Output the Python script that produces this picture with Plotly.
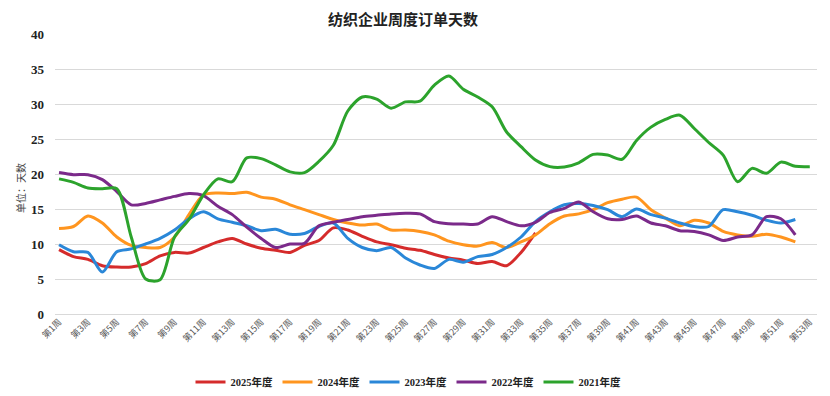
import plotly.graph_objects as go

weeks = [f"第{i}周" for i in range(1, 54)]
tick_weeks = [f"第{i}周" for i in range(1, 54, 2)]

y2025 = [9.2, 8.2, 7.8, 6.9, 6.7, 6.7, 7.2, 8.3, 8.8, 8.7, 9.5, 10.3, 10.8, 10.0, 9.4,
         9.1, 8.8, 9.8, 10.5, 12.3, 12.0, 11.1, 10.3, 9.9, 9.4, 9.1, 8.5, 8.0, 7.7, 7.2,
         7.5, 6.9, 8.8, 11.6]
y2024 = [12.2, 12.5, 14.0, 13.0, 11.0, 9.8, 9.5, 9.5, 11.0, 14.2, 17.0, 17.3, 17.2, 17.4, 16.7,
         16.4, 15.6, 14.9, 14.2, 13.5, 13.0, 12.7, 12.85, 12.0, 12.0, 11.8, 11.3, 10.4, 9.9, 9.7,
         10.2, 9.5, 10.3, 11.3, 12.9, 14.0, 14.3, 14.9, 15.9, 16.4, 16.7, 14.9, 13.7, 12.6, 13.4,
         13.0, 11.8, 11.3, 11.1, 11.4, 11.0, 10.3]
y2023 = [9.9, 8.9, 8.8, 6.0, 8.9, 9.3, 10.0, 10.8, 12.0, 13.6, 14.6, 13.6, 13.1, 12.6, 11.9,
         12.1, 11.4, 11.5, 12.5, 13.0, 10.8, 9.5, 9.05, 9.5, 8.0, 7.0, 6.5, 7.8, 7.4, 8.2,
         8.5, 9.5, 11.0, 13.2, 14.6, 15.6, 15.8, 15.5, 14.9, 13.9, 15.0, 14.2, 13.7, 13.0, 12.5,
         12.5, 14.9, 14.6, 14.1, 13.4, 13.0, 13.5]
y2022 = [20.2, 19.9, 19.9, 19.2, 17.5, 15.6, 15.8, 16.3, 16.8, 17.2, 16.9, 15.4, 14.2, 12.4, 10.8,
         9.5, 10.0, 10.1, 12.6, 13.1, 13.5, 13.9, 14.1, 14.3, 14.4, 14.3, 13.2, 12.9, 12.85, 12.85,
         13.9, 13.2, 12.6, 13.1, 14.5, 15.1, 16.0, 14.6, 13.6, 13.5, 14.0, 13.0, 12.6, 11.9, 11.8,
         11.3, 10.5, 11.0, 11.3, 13.9, 13.6, 11.3]
y2021 = [19.3, 18.8, 18.0, 17.9, 17.9, 11.0, 5.0, 4.9, 11.0, 13.5, 17.0, 19.3, 18.9, 22.3, 22.2,
         21.3, 20.3, 20.2, 21.8, 24.1, 29.0, 31.0, 30.7, 29.4, 30.3, 30.4, 32.7, 34.0, 32.1, 31.0,
         29.6, 26.0, 23.9, 22.0, 21.05, 21.0, 21.6, 22.8, 22.7, 22.1, 24.8, 26.7, 27.8, 28.4, 26.5,
         24.5, 22.7, 18.9, 20.8, 20.1, 21.7, 21.1, 21.05]

series = [
    ("2025年度", y2025, "#D52B2B"),
    ("2024年度", y2024, "#FF951F"),
    ("2023年度", y2023, "#2A87D8"),
    ("2022年度", y2022, "#7B2A8A"),
    ("2021年度", y2021, "#2CA32C"),
]

fig = go.Figure()
for name, ys, color in series:
    fig.add_trace(go.Scatter(
        x=weeks[:len(ys)], y=ys, name=name, mode="lines",
        line=dict(color=color, width=3, shape="spline", smoothing=0.8),
    ))

cjk = "Noto Sans CJK SC"
serif = "Liberation Serif"

W, H = 830, 396
L, T, B = 47, 26, 90
R = W - L - 762

fig.update_layout(
    width=W, height=H,
    margin=dict(l=L, r=R, t=T, b=B, autoexpand=False),
    plot_bgcolor="white", paper_bgcolor="white",
    showlegend=True,
    legend=dict(orientation="h", x=400 / W, xanchor="center", xref="container",
                y=1 - 374 / H, yref="container", yanchor="middle",
                font=dict(family=f"{serif}, {cjk}", size=10.5, color="#222", weight="bold"),
                itemwidth=30, tracegroupgap=0, entrywidth=42),
    title=dict(text="纺织企业周度订单天数", x=395 / W, xanchor="center", xref="container",
               y=1 - 12 / H, yref="container", yanchor="middle",
               font=dict(family=cjk, size=15, color="#222", weight="bold")),
)

fig.update_xaxes(
    type="category", categoryorder="array", categoryarray=weeks,
    range=[-0.28, 52.5], automargin=False,
    tickmode="array", tickvals=tick_weeks, ticktext=tick_weeks,
    tickangle=-45, tickfont=dict(family=cjk, size=9, color="#595959"),
    showgrid=False, showline=False, zeroline=False, ticks="",
)
fig.update_yaxes(
    range=[0, 40], tickvals=[0, 5, 10, 15, 20, 25, 30, 35, 40], automargin=False,
    showgrid=True, gridcolor="#D9D9D9", gridwidth=1,
    zeroline=True, zerolinecolor="#D9D9D9", zerolinewidth=1,
    showline=False, ticks="",
    ticklabelstandoff=10,
    tickfont=dict(family=serif, size=13, color="#222", weight="bold"),
)

pw = W - L - R
ph = H - T - B
fig.add_annotation(
    text="单位：天数", textangle=-90,
    x=(12 - L) / pw, xref="paper", y=(ph + T - 180) / ph, yref="paper",
    xanchor="center", yanchor="middle",
    showarrow=False, font=dict(family=cjk, size=10, color="#444"),
)

fig.write_html("out.html")
